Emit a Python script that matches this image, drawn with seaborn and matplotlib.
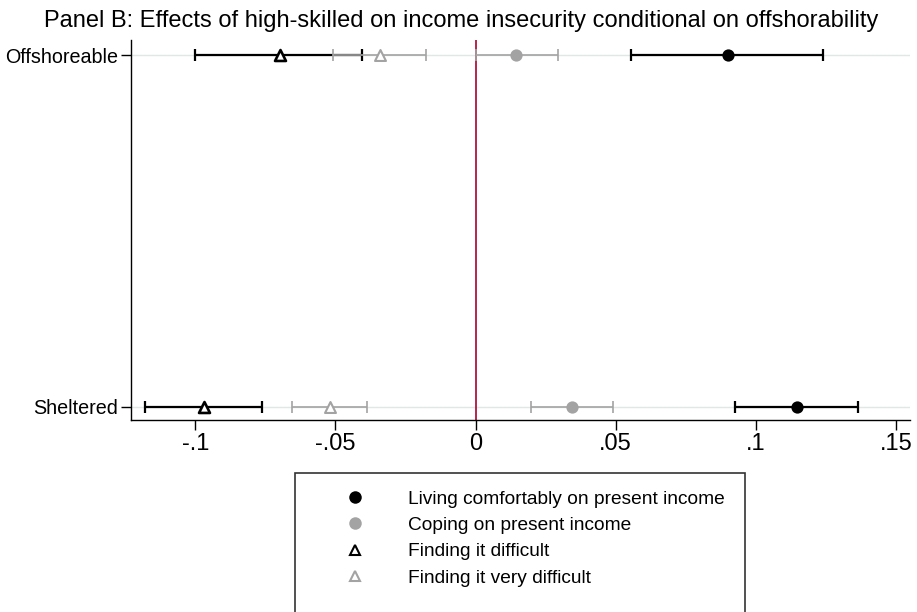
import matplotlib
matplotlib.use("Agg")
import matplotlib.pyplot as plt
from matplotlib.lines import Line2D
from matplotlib.patches import Rectangle
import numpy as np
import pandas as pd
import seaborn as sns

# Row categories (top to bottom) and their vertical positions
categories = ["Offshoreable", "Sheltered"]
cat_pos = [1, 0]

# Point estimates and confidence bounds per outcome
living_est = [0.0899, 0.1146]
living_lo = [0.0556, 0.0925]
living_hi = [0.1240, 0.1363]

coping_est = [0.0145, 0.0345]
coping_lo = [0.0000, 0.0199]
coping_hi = [0.0294, 0.0492]

difficult_est = [-0.0699, -0.0967]
difficult_lo = [-0.1000, -0.1179]
difficult_hi = [-0.0405, -0.0762]

vdifficult_est = [-0.0342, -0.0520]
vdifficult_lo = [-0.0508, -0.0654]
vdifficult_hi = [-0.0176, -0.0387]

x_ticks = [-0.1, -0.05, 0, 0.05, 0.1, 0.15]
x_ticklabels = ["-.1", "-.05", "0", ".05", ".1", ".15"]

series = [
    ("Living comfortably on present income", living_est, living_lo, living_hi),
    ("Coping on present income", coping_est, coping_lo, coping_hi),
    ("Finding it difficult", difficult_est, difficult_lo, difficult_hi),
    ("Finding it very difficult", vdifficult_est, vdifficult_lo, vdifficult_hi),
]

rows = []
for name, est, lo, hi in series:
    for cat, y, e, l, h in zip(categories, cat_pos, est, lo, hi):
        rows.append({"outcome": name, "category": cat, "y": y, "est": e, "lo": l, "hi": h})
df = pd.DataFrame(rows)

sns.set_theme(style="white")
plt.rcParams["font.family"] = ["Liberation Sans", "DejaVu Sans"]
plt.rcParams["text.color"] = "black"
plt.rcParams["xtick.color"] = "black"
plt.rcParams["ytick.color"] = "black"

BLACK = "#000000"
GREY = "#a3a3a3"
styles = {
    "Living comfortably on present income": dict(color=BLACK, marker="o", fill=BLACK, size=78, lw=1.6, mlw=0),
    "Coping on present income": dict(color=GREY, marker="o", fill=GREY, size=78, lw=1.2, mlw=0),
    "Finding it difficult": dict(color=BLACK, marker="^", fill="white", size=62, lw=1.6, mlw=1.9),
    "Finding it very difficult": dict(color=GREY, marker="^", fill="white", size=62, lw=1.2, mlw=1.5),
}

fig = plt.figure(figsize=(9.17, 6.12), dpi=100)
ax = fig.add_axes([131 / 917, 1 - 420 / 612, (910 - 131) / 917, (420 - 40) / 612])

# Row guide lines and zero reference line
for y in cat_pos:
    ax.axhline(y, color="#dfe7e7", lw=1.0, zorder=0)
ax.axvline(0, color="#b3123f", lw=1.3, zorder=1)

for name, _, _, _ in series:
    st = styles[name]
    sub = df[df["outcome"] == name]
    ax.errorbar(sub["est"], sub["y"],
                xerr=[sub["est"] - sub["lo"], sub["hi"] - sub["est"]],
                fmt="none", ecolor=st["color"], elinewidth=st["lw"],
                capsize=4.5, capthick=st["lw"], zorder=2)
    sns.scatterplot(data=sub, x="est", y="y", ax=ax, marker=st["marker"],
                    s=st["size"], color=st["fill"], edgecolor=st["color"],
                    linewidth=st["mlw"], zorder=3, legend=False)

ax.set_xlim(-0.1229, 0.155)
ax.set_ylim(-0.037, 1.043)
ax.set_xticks(x_ticks)
ax.set_xticklabels(x_ticklabels, fontsize=17)
ax.set_yticks(cat_pos)
ax.set_yticklabels(categories, fontsize=14.2)
ax.set_xlabel("")
ax.set_ylabel("")
ax.tick_params(axis="both", direction="out", length=7, width=1, color="black",
               left=True, bottom=True, pad=2)
for side in ["top", "right"]:
    ax.spines[side].set_visible(False)
for side in ["left", "bottom"]:
    ax.spines[side].set_color("black")
    ax.spines[side].set_linewidth(1.0)

fig.text(0.503, 1 - 21 / 612, "Panel B: Effects of high-skilled on income insecurity conditional on offshorability",
         ha="center", va="center", fontsize=17)

# Legend with an open-bottom box running off the figure edge
handles = []
for name, _, _, _ in series:
    st = styles[name]
    handles.append(Line2D([], [], linestyle="none", marker=st["marker"],
                          markersize=9 if st["marker"] == "o" else 7.5,
                          markerfacecolor=st["fill"], markeredgecolor=st["color"],
                          markeredgewidth=0 if st["marker"] == "o" else 1.5,
                          label=name))
leg = fig.legend(handles=handles, loc="upper left",
                 bbox_to_anchor=(295 / 917, 1 - 477 / 612),
                 frameon=False, fontsize=13.8, handlelength=4.85, handletextpad=0.34,
                 borderpad=0.7, labelspacing=0.46, borderaxespad=0, numpoints=1)
fig.patches.append(Rectangle((295 / 917, -0.05), 450 / 917, (1 - 473 / 612) + 0.05,
                             transform=fig.transFigure, fill=False,
                             edgecolor="#333333", lw=1.2))

fig.savefig("out.png", dpi=100)
